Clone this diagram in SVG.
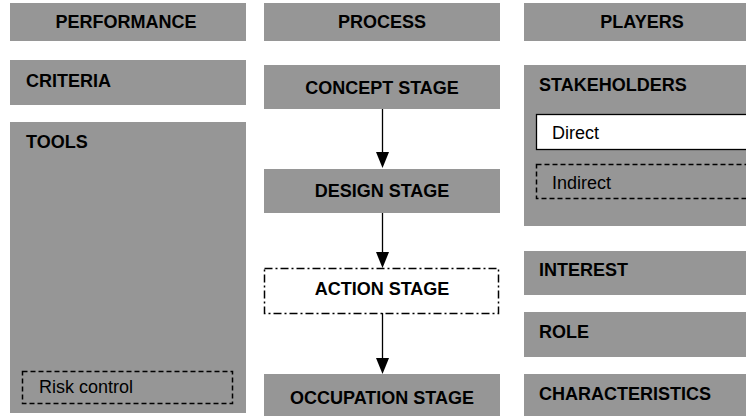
<svg xmlns="http://www.w3.org/2000/svg" width="746" height="416" viewBox="0 0 746 416">
  <defs>
    <style>
      .box { fill: #969696; }
      .t { font-family: "Liberation Sans", Arial, sans-serif; font-size: 18px; fill: #000; }
      .b { font-weight: bold; }
      .c { text-anchor: middle; }
      .conn { stroke: #000; stroke-width: 1.3; fill: none; }
      .head { fill: #000; }
      .dash { fill: none; stroke: #000; stroke-width: 1.5; stroke-dasharray: 5 3; }
    </style>
  </defs>
  <rect width="746" height="416" fill="#fff"/>

  <g id="performance"><rect class="box" x="10" y="3" width="236" height="38"/><text class="t b c" x="126" y="28">PERFORMANCE</text></g>
  <g id="criteria"><rect class="box" x="10" y="60" width="236" height="45"/><text class="t b" x="26" y="87">CRITERIA</text></g>
  <g id="tools"><rect class="box" x="10" y="122" width="236" height="291"/><text class="t b" x="26" y="148">TOOLS</text></g>
  <g id="risk-control"><rect class="dash" x="22.5" y="371.5" width="210" height="32"/><text class="t" x="39" y="393">Risk control</text></g>

  <g id="process"><rect class="box" x="264" y="3" width="236" height="38"/><text class="t b c" x="382" y="28">PROCESS</text></g>
  <g id="concept-stage"><rect class="box" x="264" y="65" width="236" height="44"/><text class="t b c" x="382" y="94">CONCEPT STAGE</text></g>
  <g id="design-stage"><rect class="box" x="264" y="169" width="236" height="44"/><text class="t b c" x="382" y="197">DESIGN STAGE</text></g>
  <g id="action-stage"><rect x="264.5" y="268.5" width="234" height="45" fill="#fff" stroke="#000" stroke-width="1.5" stroke-dasharray="8 3 2 3"/><text class="t b c" x="382" y="295">ACTION STAGE</text></g>
  <g id="occupation-stage"><rect class="box" x="264" y="374" width="236" height="45"/><text class="t b c" x="382" y="404">OCCUPATION STAGE</text></g>

  <g id="players"><rect class="box" x="524" y="3" width="236" height="38"/><text class="t b c" x="642" y="28">PLAYERS</text></g>
  <g id="stakeholders"><rect class="box" x="524" y="65" width="236" height="161"/><text class="t b" x="539" y="91">STAKEHOLDERS</text></g>
  <g id="direct"><rect x="536.5" y="114.5" width="220" height="35" fill="#fff" stroke="#000" stroke-width="1.3"/><text class="t" x="552" y="139">Direct</text></g>
  <g id="indirect"><rect class="dash" x="536.5" y="164.5" width="220" height="34"/><text class="t" x="552" y="189">Indirect</text></g>
  <g id="interest"><rect class="box" x="524" y="251" width="236" height="44"/><text class="t b" x="539" y="276">INTEREST</text></g>
  <g id="role"><rect class="box" x="524" y="312" width="236" height="45"/><text class="t b" x="539" y="338">ROLE</text></g>
  <g id="characteristics"><rect class="box" x="524" y="374" width="236" height="45"/><text class="t b" x="539" y="400">CHARACTERISTICS</text></g>

  <g id="connectors">
    <line class="conn" x1="382.5" y1="109" x2="382.5" y2="153"/>
    <polygon class="head" points="376,152 389,152 382.5,168"/>
    <line class="conn" x1="382.5" y1="213" x2="382.5" y2="253"/>
    <polygon class="head" points="376,252 389,252 382.5,268"/>
    <line class="conn" x1="382.5" y1="313" x2="382.5" y2="359"/>
    <polygon class="head" points="376,358 389,358 382.5,374"/>
  </g>
</svg>
